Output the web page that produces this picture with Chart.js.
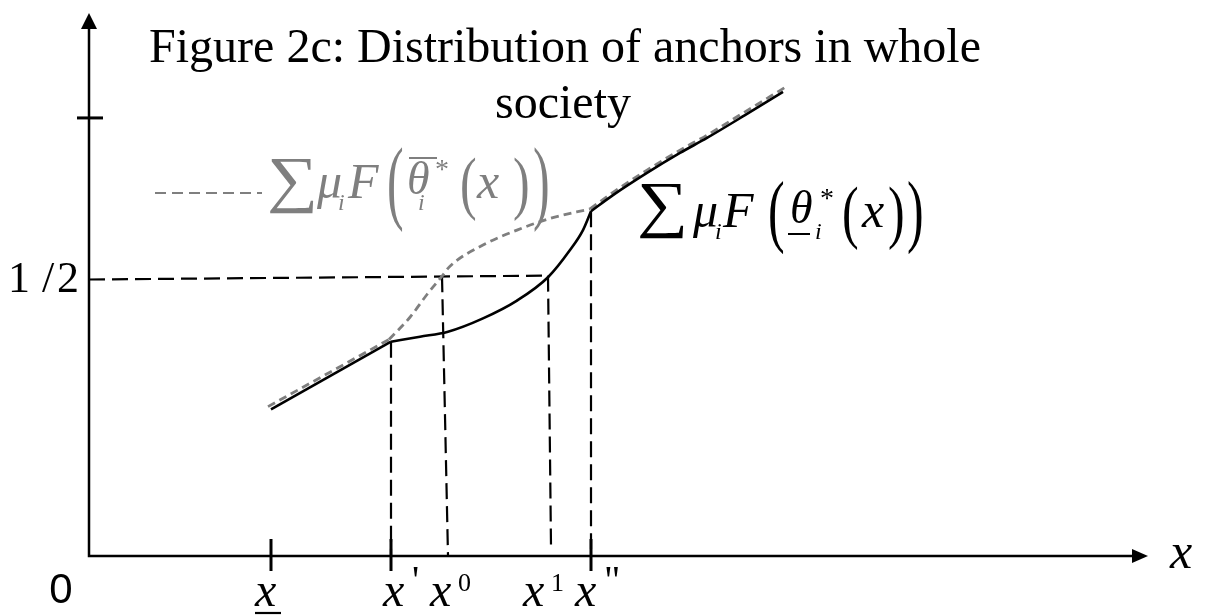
<!DOCTYPE html>
<html>
<head>
<meta charset="utf-8">
<script src="https://cdn.jsdelivr.net/npm/chart.js@4/dist/chart.umd.min.js"></script>
<style>
  html, body { margin: 0; padding: 0; background: #fff; }
  canvas { display: block; }
</style>
</head>
<body>
<canvas id="fig" width="1208" height="616"></canvas>
<script>
// axis extents (data units)
const xMax = 10.59;
const yMax = 0.978;
const yTopTick = 0.789;
const yHalf = 0.5;

// marked points on the horizontal axis
const tickX = [1.82, 3.02, 3.59, 4.62, 5.02];
const tickSuffix = ['', "'", '0', '1', '"'];
const tickHasMark = [true, true, false, false, true];

// lower envelope, sum of mu_i F(underline theta*_i(x)) - solid
const lowerLeft = [[1.82, 0.264], [3.02, 0.386]];
const lowerMid = [[3.02, 0.386], [3.31, 0.395], [3.59, 0.404], [3.94, 0.428], [4.28, 0.460],
                  [4.59, 0.502], [4.81, 0.551], [4.94, 0.587], [5.02, 0.621]];
const lowerRight = [[5.02, 0.621], [5.24, 0.650], [5.58, 0.690], [5.91, 0.726], [6.18, 0.753],
                    [6.56, 0.794], [6.94, 0.836]];

// upper envelope, sum of mu_i F(overline theta*_i(x)) - grey dashed
const upperLeft = [[1.79, 0.269], [3.00, 0.390]];
const upperMid = [[3.00, 0.390], [3.21, 0.430], [3.38, 0.471], [3.53, 0.504], [3.61, 0.522],
                  [3.94, 0.560], [4.28, 0.587], [4.61, 0.608], [5.01, 0.625]];
const upperRight = [[5.01, 0.625], [5.24, 0.655], [5.58, 0.695], [5.91, 0.731], [6.18, 0.758],
                    [6.56, 0.800], [6.97, 0.845]];

// black dashed guides
const halfLine = [[0, 0.498], [4.59, 0.505]];
const dropLines = [
  [[3.02, 0.386], [3.02, 0]],
  [[3.53, 0.504], [3.59, 0]],
  [[4.59, 0.505], [4.62, 0.018]],
  [[5.02, 0.621], [5.02, 0]]
];

const serif = '"Liberation Serif", "Times New Roman", serif';
const grey = '#7f7f7f';

const pts = arr => arr.map(p => ({ x: p[0], y: p[1] }));

function curve(arr, color, width, dash) {
  return {
    data: pts(arr),
    borderColor: color,
    borderWidth: width,
    borderDash: dash || [],
    cubicInterpolationMode: 'monotone',
    pointRadius: 0,
    fill: false
  };
}

function guide(arr) {
  return {
    data: pts(arr),
    borderColor: '#000',
    borderWidth: 2.2,
    borderDash: [16, 7],
    tension: 0,
    pointRadius: 0,
    fill: false
  };
}

const datasets = [
  curve(lowerLeft, '#000', 2.6),
  curve(lowerMid, '#000', 2.6),
  curve(lowerRight, '#000', 2.6),
  curve(upperLeft, grey, 2.8, [8, 5]),
  curve(upperMid, grey, 2.8, [8, 5]),
  curve(upperRight, grey, 2.8, [8, 5]),
  guide(halfLine)
].concat(dropLines.map(guide));

// text helper; sx/sy stretch the glyphs about the anchor point
function txt(ctx, s, x, y, size, o) {
  o = o || {};
  ctx.save();
  ctx.font = (o.italic ? 'italic ' : '') + size + 'px ' + (o.family || serif);
  ctx.fillStyle = o.color || '#000';
  ctx.textAlign = o.align || 'left';
  ctx.textBaseline = 'alphabetic';
  ctx.translate(x, y);
  ctx.scale(o.sx || 1, o.sy || 1);
  ctx.fillText(s, 0, 0);
  ctx.restore();
}

function hline(ctx, x1, x2, y, w, color) {
  ctx.save();
  ctx.strokeStyle = color;
  ctx.lineWidth = w;
  ctx.beginPath();
  ctx.moveTo(x1, y);
  ctx.lineTo(x2, y);
  ctx.stroke();
  ctx.restore();
}

// sum_i mu_i F( theta*_i (x) ) label
function sumLabel(ctx, x0, b, color, over, L) {
  const c = { color: color };
  const ci = { color: color, italic: true };
  txt(ctx, '\u2211', x0, b + L.sumDy, 64, { color: color, sx: 1.12, sy: 0.98 });
  txt(ctx, '\u03bc', x0 + L.mu, b, 50, ci);
  txt(ctx, 'i', x0 + L.mui, b + 12, 24, ci);
  txt(ctx, 'F', x0 + L.F, b, 50, ci);
  txt(ctx, '(', x0 + L.p1, b + L.bigDy, 50, { color: color, sy: L.bigSy });
  txt(ctx, '\u03b8', x0 + L.th, b - 4, 46, ci);
  if (over) hline(ctx, x0 + L.th + 2, x0 + L.th + 30, b - 40, 2, color);
  else hline(ctx, x0 + L.th - 2, x0 + L.th + 20, b + 7, 2, color);
  txt(ctx, 'i', x0 + L.sub, b + 12, 24, ci);
  txt(ctx, '*', x0 + L.star, b - 20, 28, c);
  txt(ctx, '(', x0 + L.p2, b + 8, 50, { color: color, sy: 1.38 });
  txt(ctx, 'x', x0 + L.x, b, 50, ci);
  txt(ctx, ')', x0 + L.p3, b + 8, 50, { color: color, sy: 1.38 });
  txt(ctx, ')', x0 + L.p4, b + L.bigDy, 50, { color: color, sy: L.bigSy });
}

const diagram = {
  id: 'diagram',
  afterDatasetsDraw(chart) {
    const ctx = chart.ctx;
    const xs = chart.scales.x, ys = chart.scales.y;
    const ox = xs.getPixelForValue(0), oy = ys.getPixelForValue(0);
    const right = xs.getPixelForValue(xMax), top = ys.getPixelForValue(yMax);

    ctx.save();
    ctx.strokeStyle = '#000';
    ctx.fillStyle = '#000';
    ctx.lineWidth = 2.5;
    // axes
    ctx.beginPath();
    ctx.moveTo(ox, top + 14);
    ctx.lineTo(ox, oy);
    ctx.lineTo(right - 14, oy);
    ctx.stroke();
    // arrow heads
    ctx.beginPath();
    ctx.moveTo(ox, top);
    ctx.lineTo(ox - 8, top + 16);
    ctx.lineTo(ox + 8, top + 16);
    ctx.closePath();
    ctx.fill();
    ctx.beginPath();
    ctx.moveTo(right, oy);
    ctx.lineTo(right - 16, oy - 7);
    ctx.lineTo(right - 16, oy + 7);
    ctx.closePath();
    ctx.fill();

    // ticks
    ctx.lineWidth = 3;
    const ty = ys.getPixelForValue(yTopTick);
    ctx.beginPath();
    ctx.moveTo(ox - 12, ty);
    ctx.lineTo(ox + 14, ty);
    ctx.stroke();
    tickX.forEach((v, i) => {
      if (!tickHasMark[i]) return;
      const px = xs.getPixelForValue(v);
      ctx.beginPath();
      ctx.moveTo(px, oy - 17);
      ctx.lineTo(px, oy + 15);
      ctx.stroke();
    });
    ctx.restore();

    // tick labels
    const nudge = [-16, -8, -18, -28, -16];
    const base = oy + 50;
    tickX.forEach((v, i) => {
      const px = xs.getPixelForValue(v) + nudge[i];
      txt(ctx, 'x', px, base, 48, { italic: true });
      const s = tickSuffix[i];
      if (i === 0) hline(ctx, px, px + 26, base + 7, 2.2, '#000');
      if (s === "'" || s === '"') txt(ctx, s, px + 29, base - 13, 40);
      else if (s) txt(ctx, s, px + 28, base - 15, 26);
    });
    txt(ctx, '0', ox - 28, oy + 47, 42, { family: '"Liberation Sans", Arial, sans-serif', align: 'center' });
    txt(ctx, 'x', right + 22, oy + 12, 50, { italic: true });
    const hy = ys.getPixelForValue(yHalf) + 14;
    txt(ctx, '1', ox - 81, hy, 44);
    txt(ctx, '/', ox - 47, hy, 44);
    txt(ctx, '2', ox - 32, hy, 44);

    // title
    txt(ctx, 'Figure 2c: Distribution of anchors in whole', 565, 62, 48, { align: 'center' });
    txt(ctx, 'society', 563, 118, 48, { align: 'center' });

    // legend dashes for the grey curve
    ctx.save();
    ctx.strokeStyle = grey;
    ctx.lineWidth = 2;
    ctx.setLineDash([11, 6]);
    ctx.beginPath();
    ctx.moveTo(155, 193);
    ctx.lineTo(262, 193);
    ctx.stroke();
    ctx.restore();

    sumLabel(ctx, 267, 198, grey, true,
      { sumDy: 2, mu: 50, mui: 71, F: 81, p1: 120, bigDy: 14, bigSy: 1.85,
        th: 140, sub: 151, star: 168, p2: 193, x: 210, p3: 246, p4: 266 });
    sumLabel(ctx, 637, 227, '#000', false,
      { sumDy: -2, mu: 56, mui: 78, F: 86, p1: 131, bigDy: 10, bigSy: 1.6,
        th: 153, sub: 178, star: 183, p2: 205, x: 225, p3: 251, p4: 270 });
  }
};

new Chart(document.getElementById('fig'), {
  type: 'line',
  data: { datasets: datasets },
  options: {
    responsive: false,
    animation: false,
    events: [],
    layout: { padding: { left: 89, top: 13, right: 60, bottom: 60 } },
    scales: {
      x: { type: 'linear', min: 0, max: xMax, display: false },
      y: { type: 'linear', min: 0, max: yMax, display: false }
    },
    plugins: { legend: { display: false }, tooltip: { enabled: false } }
  },
  plugins: [diagram]
});
</script>
</body>
</html>
